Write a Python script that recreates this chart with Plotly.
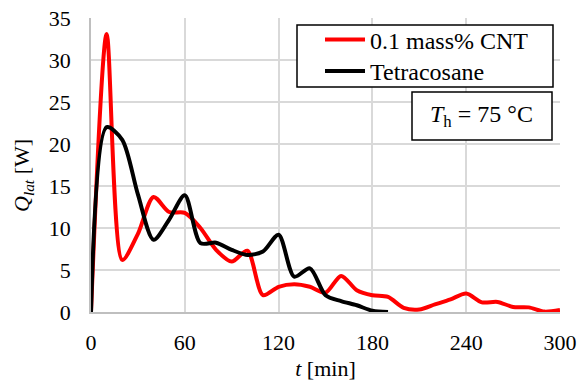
import plotly.graph_objects as go

t_cnt = [0, 10, 20, 30, 40, 50, 60, 70, 80, 90, 100, 110, 120, 130, 140, 150, 160, 170, 180, 190,
         200, 210, 220, 230, 240, 250, 260, 270, 280, 290, 300]
q_cnt = [0, 33.1, 6.2, 9.3, 13.7, 11.9, 11.8, 10.0, 7.4, 6.0, 7.3, 2.0, 3.0, 3.3, 3.0, 2.3, 4.3, 2.6, 2.0, 1.8,
         0.5, 0.3, 0.9, 1.5, 2.2, 1.15, 1.2, 0.6, 0.55, 0.05, 0.25]

t_tet = [0, 10, 20, 30, 40, 50, 60, 70, 80, 90, 100, 110, 120, 130, 140, 150, 160, 170, 180, 190]
q_tet = [0, 22.0, 20.5, 14.0, 8.6, 11.0, 13.9, 8.2, 8.25, 7.4, 6.8, 7.2, 9.2, 4.2, 5.2, 2.0, 1.3, 0.8, 0.15, 0.0]

x_ticks = [0, 60, 120, 180, 240, 300]
y_ticks = [0, 5, 10, 15, 20, 25, 30, 35]

FONT = "Liberation Serif"
grid = "#d9d9d9"

L, R, T, B = 91, 17, 18, 69
W, H = 577, 381
PW, PH = W - L - R, H - T - B


def px(xp):
    return (xp - L) / PW


def py(yp):
    return (H - B - yp) / PH


fig = go.Figure()
fig.add_trace(go.Scatter(x=t_cnt, y=q_cnt, mode="lines", name="0.1 mass% CNT", legend="legend",
                         line=dict(color="#ff0000", width=4, shape="spline", smoothing=0.8)))
fig.add_trace(go.Scatter(x=t_tet, y=q_tet, mode="lines", name="Tetracosane", legend="legend2",
                         line=dict(color="#000000", width=4, shape="spline", smoothing=0.8)))

leg_common = dict(xanchor="left", yanchor="middle", bgcolor="rgba(0,0,0,0)", borderwidth=0,
                  font=dict(size=24, family=FONT), itemwidth=40)

fig.update_layout(
    width=W, height=H,
    margin=dict(l=L, r=R, t=T, b=B),
    paper_bgcolor="white", plot_bgcolor="white",
    font=dict(family=FONT, size=22, color="black"),
    xaxis=dict(range=[0, 300], tickvals=x_ticks, showgrid=True, gridcolor=grid, gridwidth=1.5,
               showline=True, linecolor="#bfbfbf", linewidth=1.5, zeroline=False, ticks="",
               ticklabelstandoff=10, automargin=False,
               title=dict(text="<i>t</i> [min]", standoff=15, font=dict(size=22, family=FONT)),
               tickfont=dict(size=22, family=FONT)),
    yaxis=dict(range=[0, 35], tickvals=y_ticks, showgrid=True, gridcolor=grid, gridwidth=1.5,
               showline=True, linecolor="#bfbfbf", linewidth=1.5, zeroline=False, ticks="",
               ticklabelstandoff=14, automargin=False,
               tickfont=dict(size=22, family=FONT)),
    legend=dict(x=px(320), y=py(40), **leg_common),
    legend2=dict(x=px(320), y=py(71.5), **leg_common),
    showlegend=True,
)

# legend frame
fig.add_shape(type="rect", xref="paper", yref="paper", x0=px(297), x1=px(553), y0=py(87), y1=py(25),
              line=dict(color="black", width=1.5), fillcolor="white", layer="above")
# temperature box
fig.add_shape(type="rect", xref="paper", yref="paper", x0=px(412), x1=px(552), y0=py(140), y1=py(92),
              line=dict(color="black", width=1.5), fillcolor="white", layer="above")
fig.add_annotation(xref="paper", yref="paper", x=px(481), y=py(116),
                   text="<i>T</i><sub>h</sub> = 75 °C", showarrow=False,
                   font=dict(size=24, family=FONT), xanchor="center", yanchor="middle")
# y-axis title
fig.add_annotation(xref="paper", yref="paper", x=px(23), y=py(176),
                   text="<i>Q</i><sub><i>lat</i></sub> [W]", showarrow=False, textangle=-90,
                   font=dict(size=22, family=FONT), xanchor="center", yanchor="middle")

fig.write_html("out.html")
